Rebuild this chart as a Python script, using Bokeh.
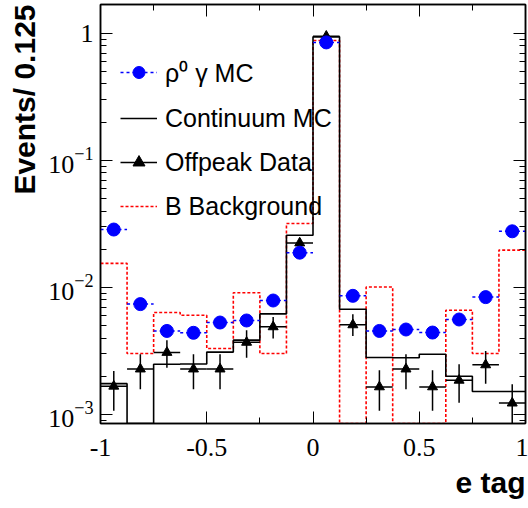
import numpy as np
from bokeh.plotting import figure
from bokeh.models import (FixedTicker, LogAxis, LinearAxis, Legend, LegendItem, Range1d, Title)
from bokeh.embed import file_html
from bokeh.resources import INLINE

# e tag binning: 16 bins of width 0.125 between -1 and 1
edges = np.linspace(-1.0, 1.0, 17)
centers = 0.5 * (edges[:-1] + edges[1:])

# rho0 gamma signal MC (normalised events per bin)
rho_mc = [0.0286, 0.0074, 0.00455, 0.0044, 0.0053, 0.0055, 0.0079, 0.0188,
          0.85, 0.0086, 0.00455, 0.00467, 0.00442, 0.0056, 0.0084, 0.0277]

# continuum MC histogram
continuum_mc = [0.00175, 0.0, 0.00249, 0.0025, 0.0031, 0.00385, 0.0062, 0.0258,
                0.94, 0.00675, 0.00281, 0.0028, 0.00298, 0.0020, 0.00152, 0.00152]

# off-peak data with lower / upper error bounds
offpeak = [0.00167, 0.00228, 0.00308, 0.00228, 0.00228, 0.0037, 0.0049, 0.0224,
           0.95, 0.00508, 0.00165, 0.00228, 0.00165, 0.00186, 0.00246, 0.00123]
offpeak_hi = [0.0022, 0.00298, 0.00385, 0.00298, 0.00298, 0.0046, 0.00587, 0.0245,
              0.98, 0.00616, 0.00223, 0.00298, 0.00223, 0.00249, 0.00317, 0.00173]
offpeak_lo = [0.00107, 0.00158, 0.00234, 0.00158, 0.00158, 0.0028, 0.00397, 0.0209,
              0.92, 0.00416, 0.00107, 0.00158, 0.00107, 0.00124, 0.00175, 0.0005]

# B background histogram
b_background = [0.0155, 0.00302, 0.00636, 0.00605, 0.00331, 0.0091, 0.00302, 0.0319,
                0.88, 0.0, 0.0101, 0.0, 0.0, 0.00663, 0.00302, 0.0197]

# axis ticks
x_ticks = [-1.0, -0.5, 0.0, 0.5, 1.0]
x_minor = [-0.75, -0.25, 0.25, 0.75]
y_ticks = [0.001, 0.01, 0.1, 1.0]
y_minor = [k * 10.0 ** e for e in range(-4, 1) for k in range(2, 10)]

Y_LO, Y_HI = 0.00085, 1.69

p = figure(width=528, height=508, x_range=Range1d(-1, 1), y_range=Range1d(Y_LO, Y_HI),
           y_axis_type="log", output_backend="svg", toolbar_location=None,
           min_border_left=98, min_border_right=3, min_border_top=4, min_border_bottom=85)
p.grid.visible = False
p.outline_line_color = "black"
p.outline_line_width = 1.5
p.background_fill_color = "white"
p.border_fill_color = "white"

TICK_FONT = "Liberation Serif"
TITLE_FONT = "Liberation Sans"


def style_axis(ax, show_labels):
    ax.axis_line_color = "black"
    ax.axis_line_width = 1.5
    ax.major_tick_in = 12
    ax.major_tick_out = 0
    ax.minor_tick_in = 6
    ax.minor_tick_out = 0
    ax.major_tick_line_color = "black"
    ax.minor_tick_line_color = "black"
    ax.major_tick_line_width = 1
    ax.minor_tick_line_width = 1
    if show_labels:
        ax.major_label_text_font = TICK_FONT
        ax.major_label_text_font_size = "26px"
        ax.major_label_text_color = "black"
    else:
        # tick marks only on the mirrored axes
        ax.major_label_text_font_size = "2px"
        ax.major_label_text_color = None
        ax.major_label_standoff = 0


xt = FixedTicker(ticks=x_ticks, minor_ticks=x_minor)
yt = FixedTicker(ticks=y_ticks, minor_ticks=y_minor)

xa = p.xaxis[0]
xa.ticker = xt
xa.major_label_overrides = {-1.0: "-1", -0.5: "-0.5", 0.0: "0", 0.5: "0.5", 1.0: "1"}
style_axis(xa, True)
xa.major_label_standoff = 15

ya = p.yaxis[0]
ya.ticker = yt
ya.major_label_overrides = {1.0: "1"}
style_axis(ya, True)
ya.major_label_standoff = 7

top = LinearAxis(ticker=xt)
style_axis(top, False)
p.add_layout(top, "above")
right = LogAxis(ticker=yt)
style_axis(right, False)
p.add_layout(right, "right")

# axis titles at the far ends of the axes
p.add_layout(Title(text="e tag", align="right", vertical_align="bottom", offset=0, standoff=10,
                   text_font=TITLE_FONT, text_font_style="bold", text_font_size="30px",
                   text_color="black"), "below")
p.add_layout(Title(text="Events/ 0.125", align="right", vertical_align="bottom", offset=0,
                   standoff=10, text_font=TITLE_FONT, text_font_style="bold",
                   text_font_size="30px", text_color="black"), "left")


def hist_line(vals):
    # empty bins are drawn on the lower edge of the frame
    y = np.maximum(np.asarray(vals, dtype=float), Y_LO)
    return np.append(y, y[-1])


bkg_r = p.step(edges, hist_line(b_background), mode="after", line_color="red",
               line_width=1.6, line_dash="3 2")
cont_r = p.step(edges, hist_line(continuum_mc), mode="after", line_color="black",
                line_width=1.6)

# off-peak data: error bars and triangles
off_xerr = p.segment(x0=edges[:-1], x1=edges[1:], y0=offpeak, y1=offpeak,
                     line_color="black", line_width=1.5)
p.segment(x0=centers, x1=centers, y0=offpeak_lo, y1=offpeak_hi,
          line_color="black", line_width=1.5)
off_pts = p.scatter(centers, offpeak, marker="triangle", size=10, color="black")

# signal MC: dashed bin-width bars and circles
rho_xerr = p.segment(x0=edges[:-1], x1=edges[1:], y0=rho_mc, y1=rho_mc,
                     line_color="blue", line_width=1.5, line_dash="3 3")
rho_pts = p.scatter(centers, rho_mc, marker="circle", size=13, color="blue")

legend = Legend(items=[
    LegendItem(label="ρ⁰ γ MC", renderers=[rho_xerr, rho_pts]),
    LegendItem(label="Continuum MC", renderers=[cont_r]),
    LegendItem(label="Offpeak Data", renderers=[off_xerr, off_pts]),
    LegendItem(label="B Background", renderers=[bkg_r]),
], location=(20, 202))
legend.padding = 0
legend.margin = 0
legend.spacing = 14
legend.glyph_width = 37
legend.glyph_height = 30
legend.label_height = 30
legend.label_standoff = 8
legend.label_text_font = TITLE_FONT
legend.label_text_font_size = "25px"
legend.label_text_color = "black"
legend.border_line_color = None
legend.background_fill_alpha = 0
p.add_layout(legend)

open("out.html", "w").write(file_html(p, INLINE))
